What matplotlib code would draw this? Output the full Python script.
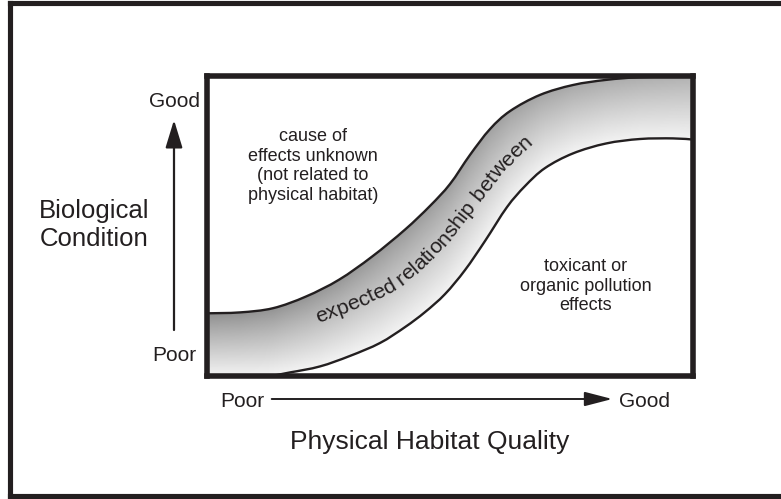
import numpy as np
import matplotlib
matplotlib.use('Agg')
import matplotlib.pyplot as plt
from matplotlib.path import Path
from matplotlib.patches import PathPatch, FancyArrowPatch
from matplotlib.lines import Line2D
from matplotlib.font_manager import FontProperties, findfont, get_font

plt.rcParams['font.family'] = ['Liberation Sans', 'DejaVu Sans']
INK = '#231f20'

# ---- data (0-100 scale; x = physical habitat quality, y = biological condition)
upper_x = [0, 6.79, 13.57, 20.36, 27.15, 33.94, 40.72, 45.86, 49.97, 54.08, 58.19, 62.31,
           68.48, 75.26, 82.05, 89.04, 100]
upper_y = [20.9, 21.2, 22.6, 26.5, 32.1, 39.8, 48.8, 56.7, 64.0, 73.7, 82.3, 88.3,
           93.7, 97.0, 98.7, 99.6, 100]
lower_x = [0, 11.93, 17.07, 23.24, 29.41, 35.57, 40.72, 44.83, 48.94, 53.05, 57.17, 61.69,
           65.39, 69.5, 75.26, 82.05, 89.04, 95.83, 100]
lower_y = [0, 0, 1.2, 3.2, 6.7, 11.0, 16.3, 21.3, 27.3, 35.3, 45.0, 56.3,
           63.3, 69.3, 74.2, 77.5, 79.0, 79.2, 78.8]

band_label = "expected relationship between"
label_path_x = [22.8, 30.6, 38.7, 44.8, 50.0, 55.1, 60.3, 64.4, 69.5]
label_path_y = [17.7, 22.3, 28.3, 36.3, 45.3, 56.0, 66.3, 73.7, 81.0]

W, H = 781, 499
fig = plt.figure(figsize=(W / 100, H / 100), dpi=100)
fig.patch.set_facecolor('white')


def fx(x):
    return x / W


def fy(y):
    return 1 - y / H


# outer frame (right edge falls outside the picture)
for xs, ys in [([9.5, 9.5], [3.4, 496]), ([9.5, 790], [3.4, 3.4]), ([9.5, 790], [496, 496])]:
    fig.add_artist(Line2D([fx(v) for v in xs], [fy(v) for v in ys], transform=fig.transFigure,
                          color=INK, lw=3.7, solid_capstyle='projecting'))

ax = fig.add_axes([fx(207), fy(376), (693.3 - 207) / W, 300 / H])
ax.set_xlim(0, 100)
ax.set_ylim(0, 100)
ax.set_xticks([])
ax.set_yticks([])
for sp in ax.spines.values():
    sp.set_linewidth(4.0)
    sp.set_color(INK)
    sp.set_zorder(10)


def smooth_path(xs, ys):
    p = np.column_stack([xs, ys]).astype(float)
    n = len(p)
    verts = [p[0]]
    codes = [Path.MOVETO]
    for i in range(n - 1):
        p0 = p[max(i - 1, 0)]
        p1 = p[i]
        p2 = p[i + 1]
        p3 = p[min(i + 2, n - 1)]
        c1 = p1 + (p2 - p0) / 6.0
        c2 = p2 - (p3 - p1) / 6.0
        verts += [c1, c2, p2]
        codes += [Path.CURVE4] * 3
    return np.array(verts), codes


uv, uc = smooth_path(upper_x, upper_y)
lv, lc = smooth_path(lower_x[::-1], lower_y[::-1])
band_verts = np.vstack([uv, [lv[0]], lv[1:], [uv[0]]])
band_codes = uc + [Path.LINETO] + lc[1:] + [Path.CLOSEPOLY]
band_patch = PathPatch(Path(band_verts, band_codes), facecolor='none', edgecolor='none',
                       transform=ax.transData)
ax.add_patch(band_patch)

# gradient across the band: dark at the upper edge, light at the lower edge
gx = np.linspace(0, 100, 600)
gy = np.linspace(0, 100, 400)
XX, YY = np.meshgrid(gx, gy)
yu = np.interp(XX, upper_x, upper_y)
yl = np.interp(XX, lower_x, lower_y)
t = np.clip((yu - YY) / np.maximum(yu - yl, 1e-6), 0, 1)
dark = 0.55 + 0.14 * XX / 100
light = 0.95
shade = dark + (light - dark) * t ** 0.9
im = ax.imshow(shade, extent=(0, 100, 0, 100), origin='lower', aspect='auto', cmap='gray',
               vmin=0, vmax=1, interpolation='bilinear', zorder=1)
im.set_clip_path(band_patch)

ax.add_patch(PathPatch(Path(uv, uc), facecolor='none', edgecolor=INK, lw=1.7, zorder=3))
lv2, lc2 = smooth_path(lower_x, lower_y)
ax.add_patch(PathPatch(Path(lv2, lc2), facecolor='none', edgecolor=INK, lw=1.7, zorder=3))

# text along the band
fs_band = 15.3
fp = FontProperties(family='Liberation Sans', size=fs_band)
font = get_font(findfont(fp))
font.set_size(fs_band, 100)
pts = ax.transData.transform(np.column_stack([label_path_x, label_path_y]))
seg = np.hypot(np.diff(pts[:, 0]), np.diff(pts[:, 1]))
cum = np.concatenate([[0], np.cumsum(seg)])


def point_at(s):
    return np.array([np.interp(s, cum, pts[:, 0]), np.interp(s, cum, pts[:, 1])])


s = 0.0
inv = ax.transData.inverted()
for ch in band_label:
    g = font.load_char(ord(ch))
    adv = g.linearHoriAdvance / 65536.0
    a = point_at(s)
    mid = s + adv / 2
    pa = point_at(mid - 16)
    pb = point_at(mid + 16)
    ang = np.degrees(np.arctan2(pb[1] - pa[1], pb[0] - pa[0]))
    if ch != ' ':
        dx, dy = inv.transform(a)
        ax.text(dx, dy, ch, fontsize=fs_band, rotation=ang, rotation_mode='anchor',
                ha='left', va='baseline', color=INK, zorder=5)
    s += adv

# region labels (y = baseline of the last line)
fig.text(fx(313), fy(200), "cause of\neffects unknown\n(not related to\nphysical habitat)",
         ha='center', va='baseline', multialignment='center', fontsize=13,
         linespacing=1.2, color=INK)
fig.text(fx(586), fy(310.4), "toxicant or\norganic pollution\neffects",
         ha='center', va='baseline', multialignment='center', fontsize=13,
         linespacing=1.2, color=INK)

# axis labels and arrows
fig.text(fx(174), fy(106.7), "Good", ha='center', va='baseline', fontsize=15, color=INK)
fig.text(fx(174), fy(361), "Poor", ha='center', va='baseline', fontsize=15, color=INK)
fig.text(fx(94), fy(246), "Biological\nCondition", ha='center', va='baseline',
         multialignment='center', fontsize=18.5, linespacing=1.2, color=INK)
fig.text(fx(242.5), fy(406.7), "Poor", ha='center', va='baseline', fontsize=15, color=INK)
fig.text(fx(644), fy(406.7), "Good", ha='center', va='baseline', fontsize=15, color=INK)
fig.text(fx(430), fy(449), "Physical Habitat Quality", ha='center', va='baseline',
         fontsize=19, color=INK)

fig.add_artist(FancyArrowPatch((fx(174), fy(330)), (fx(174), fy(120)), transform=fig.transFigure,
                               arrowstyle='-|>,head_length=17,head_width=5.2', mutation_scale=1,
                               lw=1.6, color=INK, shrinkA=0, shrinkB=0))
fig.add_artist(FancyArrowPatch((fx(271.7), fy(399)), (fx(612.3), fy(399)), transform=fig.transFigure,
                               arrowstyle='-|>,head_length=17,head_width=4.4', mutation_scale=1,
                               lw=1.4, color=INK, shrinkA=0, shrinkB=0))

fig.savefig('out.png', dpi=100, facecolor='white')
